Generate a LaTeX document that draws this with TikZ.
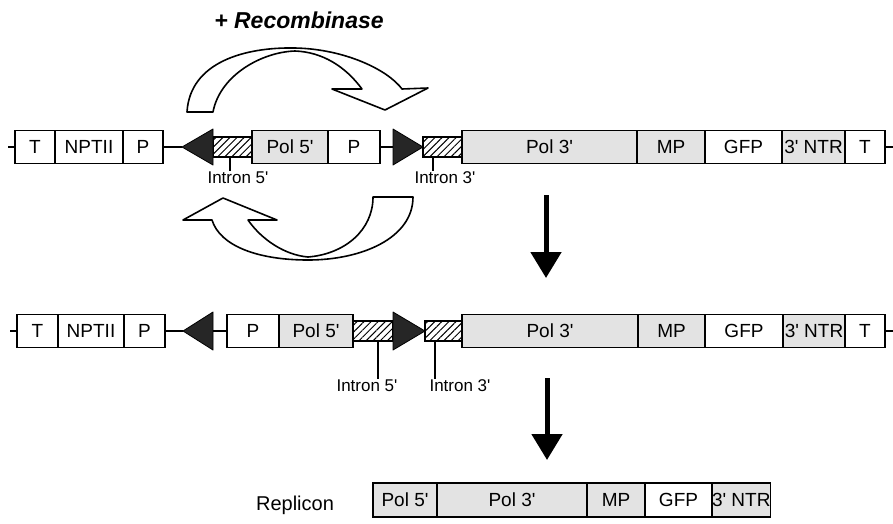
\documentclass[tikz,border=0pt]{standalone}
\usepackage{fontspec}
\setmainfont{Liberation Sans}[Ligatures=TeXOff]
\usetikzlibrary{positioning,arrows.meta,patterns.meta}
\newcommand{\segfont}{\fontsize{19}{22}\selectfont}
\newcommand{\lblfont}{\fontsize{17}{20}\selectfont}
\tikzset{
  seg/.style = {draw, line width=1.1pt, minimum height=33pt, inner sep=0pt, outer sep=0pt, font=\segfont},
  dots/.style = {seg, fill=gray!22},
  hatch/.style = {draw, line width=1.1pt, minimum height=20pt, inner sep=0pt, outer sep=0pt,
                  pattern={Lines[angle=45,distance=5pt,line width=1pt]}},
  lox/.style = {fill=black!85, draw=black, line width=0.8pt, line join=round},
  wire/.style = {line width=1.1pt},
  turn/.style = {draw, fill=white, line width=1.6pt, line join=round},
  down/.style = {line width=5pt, -{Triangle[width=30pt,length=26pt]}},
  lbl/.style = {font=\lblfont, inner sep=1pt}
}
\begin{document}
\begin{tikzpicture}[x=1pt, y=-1pt]
  \useasboundingbox (0,0) rectangle (893,523);

  % Recombinase
  \node[font=\bfseries\itshape\fontsize{23}{27}\selectfont] (rec) at (299,20) {+ Recombinase};
  \draw[turn] (187,112) .. controls (190,62) and (245,47) .. (295,48)
    .. controls (345,49) and (388,70) .. (402,89) -- (428,88) -- (385,110) -- (332,89) -- (362,89)
    .. controls (345,66) and (322,52) .. (295,51)
    .. controls (262,52) and (220,75) .. (213,112) -- cycle;
  \draw[turn] (413,197) .. controls (413,238) and (362,260) .. (308,260)
    .. controls (258,260) and (220,246) .. (212,220) -- (183,220) -- (223,198) -- (277,220) -- (248,220)
    .. controls (262,240) and (285,255) .. (308,257)
    .. controls (345,254) and (373,230) .. (373,197) -- cycle;

  % Riga 1
  \coordinate (r1l) at (8,147);
  \node[seg, minimum width=40pt] (t1) at (35,147) {T};
  \node[seg, minimum width=68pt, right=0pt of t1] (npt1) {NPTII};
  \node[seg, minimum width=40pt, right=0pt of npt1] (pa1) {P};
  \coordinate (lxa1) at (182,147);
  \node[hatch, minimum width=39pt, anchor=west] (in5a) at (213,147) {};
  \node[dots, minimum width=76pt, right=0pt of in5a] (pol5a) {Pol 5'};
  \node[seg, minimum width=52pt, right=0pt of pol5a] (pb1) {P};
  \coordinate (lxb1) at (393,147);
  \node[hatch, minimum width=39pt, anchor=west] (in3a) at (423,147) {};
  \node[dots, minimum width=175pt, right=0pt of in3a] (pol3a) {Pol 3'};
  \node[dots, minimum width=68pt, right=0pt of pol3a] (mpa) {MP};
  \node[seg, minimum width=77pt, right=0pt of mpa] (gfpa) {GFP};
  \node[dots, minimum width=63pt, right=0pt of gfpa] (ntra) {3' NTR};
  \node[seg, minimum width=40pt, right=0pt of ntra] (tb1) {T};
  \coordinate (r1r) at (893,147);

  \filldraw[lox] (lxa1) -- ([xshift=31pt,yshift=18pt]lxa1) -- ([xshift=31pt,yshift=-18pt]lxa1) -- cycle;
  \filldraw[lox] ([yshift=18pt]lxb1) -- ([xshift=30pt]lxb1) -- ([yshift=-18pt]lxb1) -- cycle;
  \draw[wire] (r1l) -- (t1.west);
  \draw[wire] (pa1.east) -- (lxa1);
  \draw[wire] (pb1.east) -- (lxb1);
  \draw[wire] (tb1.east) -- (r1r);

  \node[lbl] (i5a) at (238,178) {Intron 5'};
  \node[lbl] (i3a) at (445,178) {Intron 3'};
  \draw[wire] ([xshift=-2.5pt]in5a.south) -- ([xshift=-2.5pt]in5a.south |- i5a.north);
  \draw[wire] ([xshift=-9.5pt]in3a.south) -- ([xshift=-9.5pt]in3a.south |- i3a.north);

  % Freccia 1
  \coordinate (d1s) at (546,195);
  \coordinate (d1e) at (546,278);
  \draw[down] (d1s) -- (d1e);

  % Riga 2
  \coordinate (r2l) at (10,331);
  \node[seg, minimum width=41pt] (t2) at (37.5,331) {T};
  \node[seg, minimum width=66pt, right=0pt of t2] (npt2) {NPTII};
  \node[seg, minimum width=41pt, right=0pt of npt2] (pa2) {P};
  \coordinate (lxa2) at (183,331);
  \node[seg, minimum width=52pt] (pc2) at (253,331) {P};
  \node[dots, minimum width=74pt, right=0pt of pc2] (pol5b) {Pol 5'};
  \node[hatch, minimum width=40pt, right=0pt of pol5b] (in5b) {};
  \coordinate (lxb2) at (in5b.east);
  \node[hatch, minimum width=37pt, anchor=west] (in3b) at (425,331) {};
  \node[dots, minimum width=176pt, right=0pt of in3b] (pol3b) {Pol 3'};
  \node[dots, minimum width=67pt, right=0pt of pol3b] (mpb) {MP};
  \node[seg, minimum width=78pt, right=0pt of mpb] (gfpb) {GFP};
  \node[dots, minimum width=62pt, right=0pt of gfpb] (ntrb) {3' NTR};
  \node[seg, minimum width=40pt, right=0pt of ntrb] (tb2) {T};
  \coordinate (r2r) at (893,331);

  \filldraw[lox] (lxa2) -- ([xshift=30pt,yshift=19pt]lxa2) -- ([xshift=30pt,yshift=-19pt]lxa2) -- cycle;
  \filldraw[lox] ([yshift=19pt]lxb2) -- ([xshift=32pt]lxb2) -- ([yshift=-19pt]lxb2) -- cycle;
  \draw[wire] (r2l) -- (t2.west);
  \draw[wire] (pa2.east) -- (lxa2);
  \draw[wire] ([xshift=30pt]lxa2) -- (pc2.west);
  \draw[wire] (tb2.east) -- (r2r);

  \node[lbl] (i5b) at (367,386) {Intron 5'};
  \node[lbl] (i3b) at (460,386) {Intron 3'};
  \draw[wire] ([xshift=5pt]in5b.south) -- ([xshift=5pt]in5b.south |- i5b.north);
  \draw[wire] ([xshift=-8.5pt]in3b.south) -- ([xshift=-8.5pt]in3b.south |- i3b.north);

  % Freccia 2
  \coordinate (d2s) at (547,378);
  \coordinate (d2e) at (547,460);
  \draw[down] (d2s) -- (d2e);

  % Replicone
  \node[lbl, font=\fontsize{20}{24}\selectfont] (rep) at (295,505) {Replicon};
  \node[dots, minimum width=64pt, minimum height=34pt] (pol5c) at (405,500) {Pol 5'};
  \node[dots, minimum width=150pt, minimum height=34pt, right=0pt of pol5c] (pol3c) {Pol 3'};
  \node[dots, minimum width=58pt, minimum height=34pt, right=0pt of pol3c] (mpc) {MP};
  \node[seg, minimum width=67pt, minimum height=34pt, right=0pt of mpc] (gfpc) {GFP};
  \node[dots, minimum width=58pt, minimum height=34pt, right=0pt of gfpc] (ntrc) {3' NTR};
\end{tikzpicture}
\end{document}
